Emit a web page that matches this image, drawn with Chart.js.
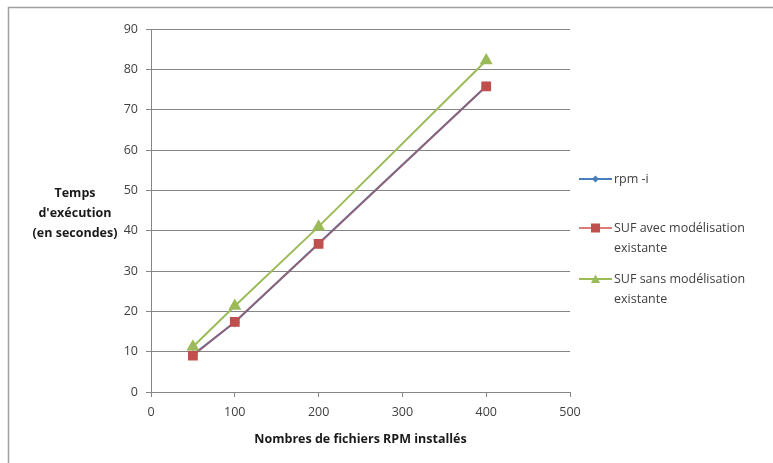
<!DOCTYPE html>
<html>
<head>
<meta charset="utf-8">
<script src="https://cdn.jsdelivr.net/npm/chart.js@4.4.0/dist/chart.umd.min.js"></script>
<style>
  html, body { margin: 0; padding: 0; background: #fff; }
  #wrap { position: relative; width: 773px; height: 463px; }
</style>
</head>
<body>
<div id="wrap"><canvas id="chart" width="773" height="463"></canvas></div>
<script>
// Data
const xValues = [50, 100, 200, 400];
const rpmValues = [9.2, 17.3, 36.8, 75.8];
const sufAvecValues = [9.0, 17.4, 36.7, 75.8];
const sufSansValues = [11.2, 21.3, 41.0, 82.2];
const seriesLabels = ['rpm -i', 'SUF avec modélisation existante', 'SUF sans modélisation existante'];
const legendLines = [['rpm -i'], ['SUF avec modélisation', 'existante'], ['SUF sans modélisation', 'existante']];
const yTitleLines = ['Temps', "d'exécution", '(en secondes)'];
const xTitle = 'Nombres de fichiers RPM installés';

const FONT = "'Open Sans', sans-serif";
const TEXT = '#404040';

function pts(values) {
  return xValues.map((x, i) => ({x: x, y: values[i]}));
}

// Frame, horizontal axis titles and the wrapped legend
const decorPlugin = {
  id: 'decor',
  afterDraw(chart) {
    const ctx = chart.ctx;
    const area = chart.chartArea;
    ctx.save();
    // outer frame
    ctx.strokeStyle = '#a0a0a0';
    ctx.lineWidth = 1.5;
    ctx.beginPath();
    ctx.moveTo(8.5, 470);
    ctx.lineTo(8.5, 7.5);
    ctx.lineTo(780, 7.5);
    ctx.stroke();

    ctx.fillStyle = '#1a1a1a';
    ctx.font = 'bold 12.5px ' + FONT;
    ctx.textAlign = 'center';
    ctx.textBaseline = 'middle';
    yTitleLines.forEach((t, i) => ctx.fillText(t, 75, 193 + i * 20));
    ctx.fillText(xTitle, (area.left + area.right) / 2, 439);

    // legend
    ctx.font = '12.5px ' + FONT;
    ctx.textAlign = 'left';
    const legendY = [179, 228, 279];
    chart.data.datasets.forEach((ds, i) => {
      const y = legendY[i];
      ctx.strokeStyle = ds.legendLine;
      ctx.lineWidth = 2;
      ctx.beginPath();
      ctx.moveTo(579, y);
      ctx.lineTo(612, y);
      ctx.stroke();
      ctx.fillStyle = ds.pointBackgroundColor;
      ctx.beginPath();
      if (ds.pointStyle === 'rectRot') {
        ctx.moveTo(595.5, y - 3.5); ctx.lineTo(599, y); ctx.lineTo(595.5, y + 3.5); ctx.lineTo(592, y);
      } else if (ds.pointStyle === 'rect') {
        ctx.rect(591, y - 4.5, 9, 9);
      } else {
        ctx.moveTo(595.5, y - 4.5); ctx.lineTo(600, y + 4); ctx.lineTo(591, y + 4);
      }
      ctx.closePath();
      ctx.fill();
      ctx.fillStyle = TEXT;
      legendLines[i].forEach((t, j) => ctx.fillText(t, 614, y + j * 20));
    });
    ctx.restore();
  }
};

new Chart(document.getElementById('chart'), {
  type: 'scatter',
  data: {
    datasets: [
      {
        label: seriesLabels[0],
        data: pts(rpmValues),
        showLine: true,
        borderColor: '#4a7ebb',
        legendLine: '#4a7ebb',
        borderWidth: 2,
        pointStyle: 'rectRot',
        pointRadius: 3.5,
        pointBackgroundColor: '#4a7ebb',
        pointBorderColor: '#4a7ebb',
        order: 3
      },
      {
        label: seriesLabels[1],
        data: pts(sufAvecValues),
        showLine: true,
        borderColor: 'rgba(190, 75, 72, 0.55)',
        legendLine: '#e07a78',
        borderWidth: 2,
        pointStyle: 'rect',
        pointRadius: 5.5,
        pointBackgroundColor: '#c0504d',
        pointBorderColor: '#c0504d',
        order: 2
      },
      {
        label: seriesLabels[2],
        data: pts(sufSansValues),
        showLine: true,
        borderColor: '#9bbb59',
        legendLine: '#9bbb59',
        borderWidth: 2,
        pointStyle: 'triangle',
        pointRadius: 5.5,
        pointBackgroundColor: '#9bbb59',
        pointBorderColor: '#9bbb59',
        order: 1
      }
    ]
  },
  options: {
    responsive: false,
    animation: false,
    layout: {padding: {left: 100, right: 203, top: 29, bottom: 0}},
    plugins: {
      legend: {display: false},
      tooltip: {enabled: false}
    },
    scales: {
      x: {
        type: 'linear',
        min: 0,
        max: 500,
        ticks: {stepSize: 100, color: TEXT, font: {family: FONT, size: 12.5}, padding: 8},
        grid: {drawOnChartArea: false, drawTicks: true, tickLength: 5, color: '#868686'},
        border: {color: '#868686', width: 1},
        afterFit(scale) { scale.height = 71; }
      },
      y: {
        min: 0,
        max: 90,
        ticks: {stepSize: 10, color: TEXT, font: {family: FONT, size: 12.5}, padding: 8},
        grid: {color: '#868686', lineWidth: 1, tickLength: 5},
        border: {color: '#868686', width: 1},
        afterFit(scale) { scale.width = 51; }
      }
    }
  },
  plugins: [decorPlugin]
});
</script>
</body>
</html>
